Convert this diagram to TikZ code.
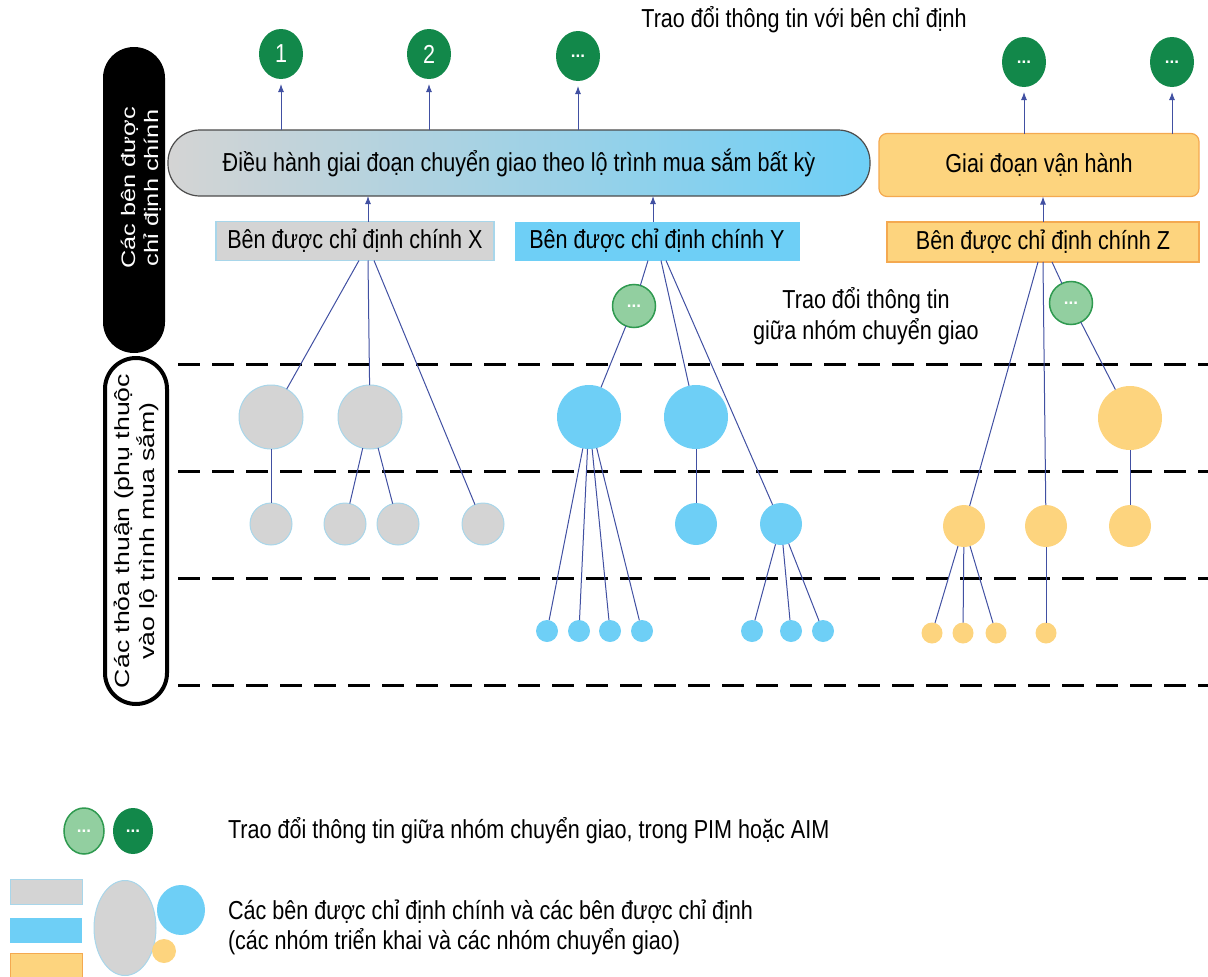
\documentclass[tikz,border=0pt]{standalone}
\usepackage{fontspec}
\setmainfont{Liberation Sans}[FakeStretch=0.83]
\newfontfamily\tallfont{Liberation Sans}[FakeStretch=1.3]
\newfontfamily\dotfont{Liberation Sans Bold}
\usetikzlibrary{arrows.meta, shapes.geometric}

\definecolor{cgray}{HTML}{D4D4D4}
\definecolor{cgrayb}{HTML}{A8D6EA}
\definecolor{cblue}{HTML}{6ECFF6}
\definecolor{corange}{HTML}{FDD47E}
\definecolor{coranb}{HTML}{F4A950}
\definecolor{dgreen}{HTML}{12884A}
\definecolor{lgreen}{HTML}{92CFA0}
\definecolor{lgreenb}{HTML}{2F9A50}
\definecolor{linkc}{HTML}{4150A2}

\begin{document}
\begin{tikzpicture}[x=1pt, y=-1pt, font=\fontsize{26}{31}\selectfont]
\tikzset{ >={Latex[length=8pt, width=6pt]}, inner sep=0pt, outer sep=0pt,
  lnk/.style={draw=linkc, line width=1},
  arr/.style={->, draw=linkc, line width=1, shorten >=5pt},
  bigc/.style={circle, minimum size=64},
  midc/.style={circle, minimum size=42},
  smlc/.style={circle, minimum size=22},
  grayc/.style={fill=cgray, draw=cgrayb, line width=1},
  bluec/.style={fill=cblue},
  orc/.style={fill=corange},
  dgc/.style={ellipse, fill=dgreen, text=white, minimum width=44, minimum height=50},
  lgc/.style={ellipse, fill=lgreen, draw=lgreenb, line width=1.5, text=white, minimum width=43, minimum height=43},
  dots/.style={font=\dotfont\fontsize{17}{17}\selectfont},
  dashline/.style={line width=3, dash pattern=on 22pt off 12pt},
}
\useasboundingbox (0,0) rectangle (1208,977);

%\draw [lightgray, dashed](0,0) grid[step=100] (1208,977);

% side bars
\node [rotate=90, fill=black, rounded corners=31, minimum width=306, minimum height=62] (B) at (134,200) {};
\node [rotate=90, text=white, align=center, font=\tallfont\fontsize{19.5}{23}\selectfont]
  (Bt) at ([xshift=7,yshift=12]B.center) {Các bên được\\chỉ định chính};
\node [rotate=90, fill=white, draw=black, line width=4, rounded corners=31, minimum width=346, minimum height=62,
  align=center, font=\tallfont\fontsize{20.5}{25}\selectfont] (A) at (136,531) {Các thỏa thuận (phụ thuộc\\vào lộ trình mua sắm)};

\foreach \y in {364,471,578,685}
  \draw [dashline] (178,\y) -- (1208,\y);

% top row
\node at (804,20) (tt) {Trao đổi thông tin với bên chỉ định};

\node [dgc] (G1) at (281,54) {1};
\node [dgc] (G2) at (429,54) {2};
\node [dgc, dots] (G3) at (578,56) {...};
\node [dgc, dots] (G4) at (1024,62) {...};
\node [dgc, dots] (G5) at (1172,62) {...};

\node [left color=cgray, right color=cblue, draw=black!70, line width=1.2, rounded corners=32,
  minimum width=702, minimum height=66] (T) at (519,163) {Điều hành giai đoạn chuyển giao theo lộ trình mua sắm bất kỳ};
\node [fill=corange, draw=coranb, line width=1.2, rounded corners=8,
  minimum width=320, minimum height=63] (O) at (1039,165) {Giai đoạn vận hành};

\foreach \g in {G1,G2,G3} \draw [arr] (T.north -| \g) -- (\g);
\foreach \g in {G4,G5} \draw [arr] (O.north -| \g) -- (\g);

% lead appointed parties
\node [fill=cgray, draw=cgrayb, line width=1.2, minimum width=278, minimum height=39] (X) at (355,241) {Bên được chỉ định chính X};
\node [fill=cblue, minimum width=285, minimum height=39] (Y) at (657,241) {Bên được chỉ định chính Y};
\node [fill=corange, draw=coranb, line width=1.2, minimum width=312, minimum height=40] (Z) at (1043,242) {Bên được chỉ định chính Z};

\coordinate (xa) at ([xshift=13]X.north);
\coordinate (ya) at ([xshift=-4]Y.north);
\coordinate (za) at (Z.north);
\draw [arr, shorten >=0pt] (xa) -- (xa |- T.south);
\draw [arr, shorten >=0pt] (ya) -- (ya |- T.south);
\draw [arr, shorten >=0pt] (za) -- (za |- O.south);

\node [align=center] (tg) at (866,316) {Trao đổi thông tin\\giữa nhóm chuyển giao};

% X
\node [bigc, grayc] (X1) at (271,417) {};
\node [bigc, grayc] (X2) at (370,417) {};
\node [midc, grayc] (X3) at (271,524) {};
\node [midc, grayc] (X4) at (345,524) {};
\node [midc, grayc] (X5) at (398,524) {};
\node [midc, grayc] (X6) at (483,524) {};

\draw [lnk] ([xshift=4]X.south) -- (X1);
\draw [lnk] ([xshift=13]X.south) -- (X2);
\draw [lnk] ([xshift=19]X.south) -- (X6);
\draw [lnk] (X1) -- (X3);
\draw [lnk] (X2) -- (X4);
\draw [lnk] (X2) -- (X5);

% Y
\node [lgc, dots] (YG) at (634,306) {...};
\node [bigc, bluec] (Y1) at (589,417) {};
\node [bigc, bluec] (Y2) at (696,417) {};
\node [midc, bluec] (Y3) at (696,524) {};
\node [midc, bluec] (Y4) at (781,524) {};
\node [smlc, bluec] (Ya) at (547,631) {};
\node [smlc, bluec] (Yb) at (579,631) {};
\node [smlc, bluec] (Yc) at (610,631) {};
\node [smlc, bluec] (Yd) at (642,631) {};
\node [smlc, bluec] (Ye) at (752,631) {};
\node [smlc, bluec] (Yf) at (791,631) {};
\node [smlc, bluec] (Yg) at (823,631) {};

\draw [lnk] ([xshift=-9]Y.south) -- (YG);
\draw [lnk] (YG) -- (Y1);
\draw [lnk] ([xshift=4]Y.south) -- (Y2);
\draw [lnk] ([xshift=9]Y.south) -- (Y4);
\draw [lnk] (Y2) -- (Y3);
\foreach \s in {Ya,Yb,Yc,Yd} \draw [lnk] (Y1) -- (\s);
\foreach \s in {Ye,Yf,Yg} \draw [lnk] (Y4) -- (\s);

% Z
\node [lgc, dots] (ZG) at (1071,303) {...};
\node [bigc, orc] (Z3) at (1130,418) {};
\node [midc, orc] (Z1) at (964,526) {};
\node [midc, orc] (Z2) at (1046,526) {};
\node [midc, orc] (Z6) at (1130,526) {};
\node [smlc, orc, minimum size=21] (Za) at (932,633) {};
\node [smlc, orc, minimum size=21] (Zb) at (963,633) {};
\node [smlc, orc, minimum size=21] (Zc) at (996,633) {};
\node [smlc, orc, minimum size=21] (Zd) at (1046,633) {};

\draw [lnk] ([xshift=-5]Z.south) -- (Z1);
\draw [lnk] (Z.south) -- (Z2);
\draw [lnk] ([xshift=9]Z.south) -- (ZG);
\draw [lnk] (ZG) -- (Z3);
\draw [lnk] (Z3) -- (Z6);
\foreach \s in {Za,Zb,Zc} \draw [lnk] (Z1) -- (\s);
\draw [lnk] (Z2) -- (Zd);

% legend
\node [lgc, dots, minimum width=40, minimum height=46] (L1) at (84,831) {...};
\node [dgc, dots, minimum width=40, minimum height=46] (L2) at (133,831) {...};
\node [anchor=west] (Lt1) at (228,831) {Trao đổi thông tin giữa nhóm chuyển giao, trong PIM hoặc AIM};

\node [fill=cgray, draw=cgrayb, line width=1, minimum width=72, minimum height=25] (R1) at (46,892) {};
\node [fill=cblue, minimum width=72, minimum height=25] (R2) at (46,930) {};
\node [fill=corange, draw=coranb, line width=1, minimum width=72, minimum height=25] (R3) at (46,966) {};
\node [ellipse, grayc, minimum width=62, minimum height=95] (E1) at (125,928) {};
\node [ellipse, bluec, minimum width=48, minimum height=50] (E2) at (181,910) {};
\node [circle, orc, minimum size=24] (E3) at (164,951) {};
\node [anchor=west] (Lt2) at (228,912) {Các bên được chỉ định chính và các bên được chỉ định};
\node [anchor=west] (Lt3) at (228,942) {(các nhóm triển khai và các nhóm chuyển giao)};

\end{tikzpicture}
\end{document}
